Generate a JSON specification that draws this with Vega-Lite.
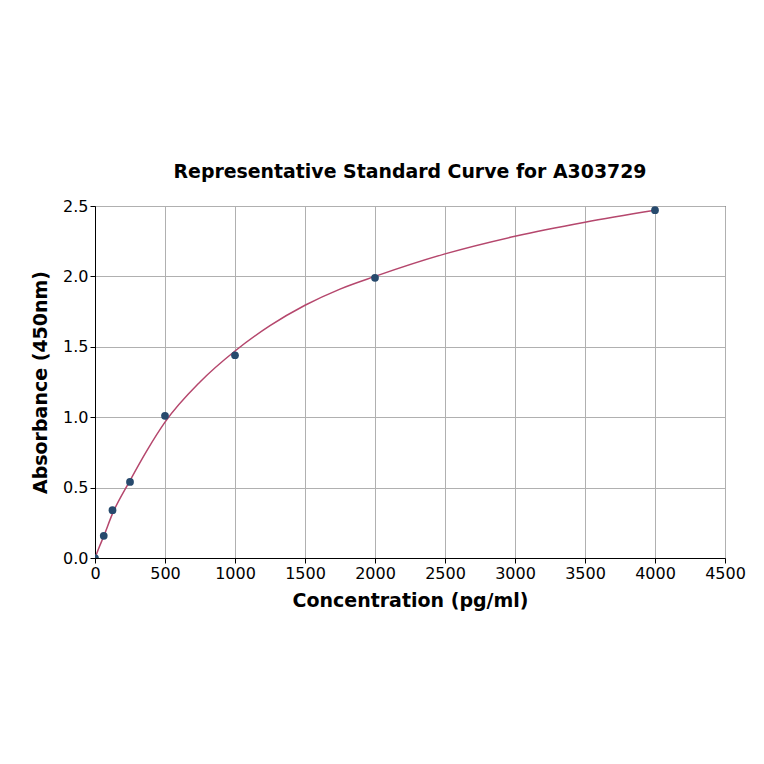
{
  "$schema": "https://vega.github.io/schema/vega-lite/v6.json",
  "width": 630,
  "height": 352,
  "autosize": "none",
  "padding": {"left": 95, "top": 206, "right": 39, "bottom": 206},
  "background": "white",
  "config": {
    "font": "DejaVu Sans",
    "view": {"stroke": "black", "strokeWidth": 1},
    "axis": {
      "labelFont": "DejaVu Sans",
      "labelFontSize": 16,
      "labelColor": "black",
      "labelFlush": false,
      "titleFont": "DejaVu Sans",
      "titleFontSize": 19,
      "titleFontWeight": "bold",
      "titleColor": "black",
      "domainColor": "black",
      "tickColor": "black",
      "tickSize": 5,
      "gridColor": "#b0b0b0",
      "gridOpacity": 1
    }
  },
  "title": {
    "text": "Representative Standard Curve for A303729",
    "fontSize": 18.9,
    "fontWeight": "bold",
    "font": "DejaVu Sans",
    "color": "black",
    "offset": 16
  },
  "datasets": {
    "curve": [
      {"conc": 0, "od": 0.0},
      {"conc": 31.25, "od": 0.08},
      {"conc": 62.5, "od": 0.155},
      {"conc": 125, "od": 0.315},
      {"conc": 250, "od": 0.55},
      {"conc": 375, "od": 0.77},
      {"conc": 500, "od": 0.965},
      {"conc": 750, "od": 1.25},
      {"conc": 1000, "od": 1.47},
      {"conc": 1250, "od": 1.65},
      {"conc": 1500, "od": 1.795},
      {"conc": 1750, "od": 1.91},
      {"conc": 2000, "od": 2.0},
      {"conc": 2500, "od": 2.16},
      {"conc": 3000, "od": 2.285},
      {"conc": 3500, "od": 2.385},
      {"conc": 4000, "od": 2.47}
    ],
    "points": [
      {"conc": 0, "od": 0.0},
      {"conc": 62.5, "od": 0.158},
      {"conc": 125, "od": 0.34},
      {"conc": 250, "od": 0.54},
      {"conc": 500, "od": 1.01},
      {"conc": 1000, "od": 1.44},
      {"conc": 2000, "od": 1.99},
      {"conc": 4000, "od": 2.47}
    ]
  },
  "encoding": {
    "x": {
      "field": "conc",
      "type": "quantitative",
      "title": "Concentration (pg/ml)",
      "scale": {"domain": [0, 4500], "nice": false},
      "axis": {"values": [0, 500, 1000, 1500, 2000, 2500, 3000, 3500, 4000, 4500], "format": "d", "titlePadding": 10}
    },
    "y": {
      "field": "od",
      "type": "quantitative",
      "title": "Absorbance (450nm)",
      "scale": {"domain": [0, 2.5], "nice": false},
      "axis": {"values": [0, 0.5, 1, 1.5, 2, 2.5], "format": ".1f", "titlePadding": 12}
    }
  },
  "layer": [
    {
      "data": {"name": "curve"},
      "mark": {"type": "line", "color": "#b5476d", "strokeWidth": 1.5, "interpolate": "monotone", "clip": true}
    },
    {
      "data": {"name": "points"},
      "mark": {"type": "circle", "color": "#274a6d", "opacity": 1, "size": 60, "clip": true}
    }
  ]
}
